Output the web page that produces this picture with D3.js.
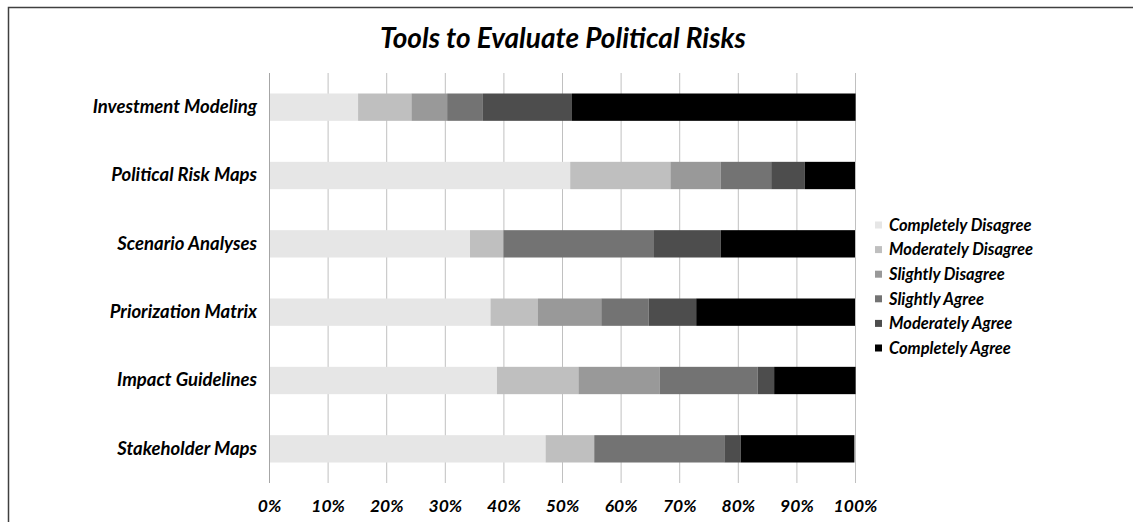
<!DOCTYPE html>
<html>
<head>
<meta charset="utf-8">
<script src="https://cdn.jsdelivr.net/npm/d3@7"></script>
<style>
  html, body { margin: 0; padding: 0; background: #fff; }
  svg { display: block; }
  text { font-family: Lato, "Open Sans", sans-serif; font-weight: 700; font-style: italic; fill: #000; }
</style>
</head>
<body>
<svg id="chart" width="1133" height="522"></svg>
<script>
// Survey responses (share of respondents, %) per tool
const tools = [
  "Investment Modeling",
  "Political Risk Maps",
  "Scenario Analyses",
  "Priorization Matrix",
  "Impact Guidelines",
  "Stakeholder Maps"
];
const responses = [
  "Completely Disagree",
  "Moderately Disagree",
  "Slightly Disagree",
  "Slightly Agree",
  "Moderately Agree",
  "Completely Agree"
];
const completelyDisagree = [15.2, 51.4, 34.3, 37.8, 38.9, 47.2];
const moderatelyDisagree = [9.1, 17.1, 5.7, 8.1, 13.9, 8.3];
const slightlyDisagree   = [6.1, 8.6, 0.0, 10.8, 13.9, 0.0];
const slightlyAgree      = [6.1, 8.6, 25.7, 8.1, 16.7, 22.2];
const moderatelyAgree    = [15.2, 5.7, 11.4, 8.1, 2.8, 2.8];
const completelyAgree    = [48.4, 8.6, 22.9, 27.1, 13.9, 19.4];
const tickValues = [0, 10, 20, 30, 40, 50, 60, 70, 80, 90, 100];
const title = "Tools to Evaluate Political Risks";

const series = [completelyDisagree, moderatelyDisagree, slightlyDisagree,
                slightlyAgree, moderatelyAgree, completelyAgree];
const shades = ["#e6e6e6", "#bfbfbf", "#999999", "#737373", "#4d4d4d", "#000000"];

const rows = tools.map((t, i) => {
  const row = { tool: t };
  responses.forEach((r, k) => { row[r] = series[k][i]; });
  return row;
});

const svg = d3.select("#chart");

// chart frame
svg.append("path")
  .attr("d", "M8.5,522 L8.5,7.5 L1133,7.5")
  .attr("fill", "none")
  .attr("stroke", "#404040")
  .attr("stroke-width", 1.5);

const plot = { left: 269, right: 855, top: 73, bottom: 483 };

const x = d3.scaleLinear().domain([0, 100]).range([plot.left, plot.right]);
const y = d3.scaleBand().domain(tools).range([plot.top, plot.bottom])
  .paddingInner(0.6).paddingOuter(0.3);
const color = d3.scaleOrdinal().domain(responses).range(shades);

// title
svg.append("text")
  .attr("x", 563).attr("y", 48)
  .attr("text-anchor", "middle")
  .style("font-size", "28px")
  .text(title);

// vertical gridlines
svg.append("g")
  .selectAll("line")
  .data(tickValues)
  .join("line")
  .attr("x1", d => x(d) + 0.5).attr("x2", d => x(d) + 0.5)
  .attr("y1", plot.top).attr("y2", plot.bottom)
  .attr("stroke", "#c0c0c0")
  .attr("stroke-width", 1);

// stacked bars
const stack = d3.stack().keys(responses)(rows);
svg.append("g")
  .selectAll("g")
  .data(stack)
  .join("g")
  .attr("fill", d => color(d.key))
  .selectAll("rect")
  .data(d => d)
  .join("rect")
  .attr("x", d => x(d[0]))
  .attr("y", d => y(d.data.tool))
  .attr("width", d => x(d[1]) - x(d[0]))
  .attr("height", y.bandwidth());

// category axis
const yAxis = svg.append("g")
  .attr("transform", `translate(${plot.left},0)`)
  .call(d3.axisLeft(y).tickSize(0).tickPadding(12));
yAxis.select(".domain").remove();
yAxis.selectAll("text")
  .style("font-size", "18.5px")
  .style("font-family", "Lato, 'Open Sans', sans-serif");

// left axis line
svg.append("line")
  .attr("x1", plot.left + 0.5).attr("x2", plot.left + 0.5)
  .attr("y1", plot.top).attr("y2", plot.bottom)
  .attr("stroke", "#a6a6a6");

// percentage axis
const xAxis = svg.append("g")
  .attr("transform", `translate(0,${plot.bottom})`)
  .call(d3.axisBottom(x).tickValues(tickValues).tickFormat(d => d + "%").tickSize(0).tickPadding(17));
xAxis.select(".domain").remove();
xAxis.selectAll("text")
  .style("font-size", "17.5px")
  .style("font-family", "Lato, 'Open Sans', sans-serif");

// legend
const legend = svg.append("g")
  .selectAll("g")
  .data(responses)
  .join("g")
  .attr("transform", (d, i) => `translate(875,${225 + i * 24.6})`);
legend.append("rect")
  .attr("x", 0).attr("y", -3.5)
  .attr("width", 7).attr("height", 7)
  .attr("fill", d => color(d));
legend.append("text")
  .attr("x", 14).attr("y", 0)
  .attr("dy", "0.35em")
  .style("font-size", "16.5px")
  .text(d => d);
</script>
</body>
</html>
